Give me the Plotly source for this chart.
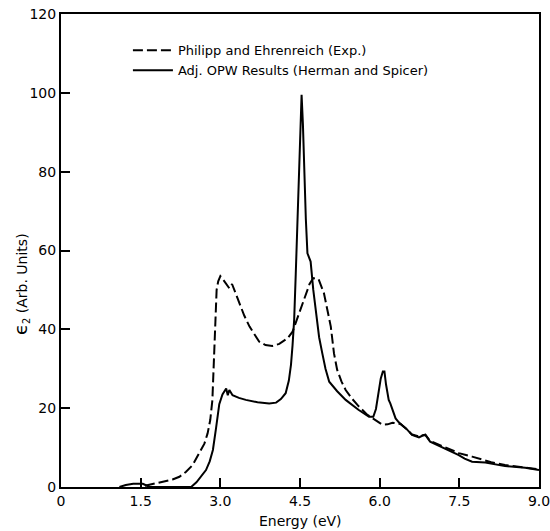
import plotly.graph_objects as go

# Adj. OPW results (Herman and Spicer) - solid
opw_energy = [1.10, 1.22, 1.36, 1.54, 1.67, 2.45, 2.55, 2.65, 2.73, 2.80, 2.86, 2.92,
              2.98, 3.04, 3.11, 3.14, 3.17, 3.23, 3.35, 3.48, 3.70, 3.92, 4.05, 4.14,
              4.23, 4.29, 4.33, 4.36, 4.39, 4.42, 4.45, 4.49, 4.53, 4.555, 4.58, 4.61,
              4.64, 4.67, 4.70, 4.75, 4.80, 4.86, 4.92, 4.98, 5.05, 5.20, 5.36, 5.60,
              5.80, 5.88, 5.93, 5.98, 6.02, 6.06, 6.09, 6.12, 6.17, 6.20, 6.25, 6.30,
              6.36, 6.50, 6.61, 6.74, 6.80, 6.86, 6.95, 7.10, 7.24, 7.49, 7.60, 7.74,
              7.99, 8.36, 8.74, 9.00]
opw_eps2 = [0.0, 0.5, 0.8, 0.8, 0.0, 0.0, 1.2, 2.8, 4.3, 6.5, 9.4, 15.0,
            21.0, 23.5, 25.0, 23.3, 24.6, 23.3, 22.6, 22.1, 21.5, 21.2, 21.4, 22.3,
            23.8, 27.0, 31.0, 36.0, 42.4, 54.0, 67.0, 84.0, 99.5, 92.0, 79.6, 68.0,
            59.3, 58.0, 57.2, 50.0, 44.0, 38.0, 33.9, 30.0, 26.7, 24.3, 22.1, 19.6,
            17.8, 17.8, 19.8, 23.8, 27.5, 29.3, 29.3, 26.0, 22.1, 21.2, 19.0, 17.4,
            16.4, 14.8, 13.2, 12.6, 13.0, 13.2, 11.5, 10.6, 9.8, 8.1, 7.2, 6.4,
            6.2, 5.3, 4.9, 4.3]

# Philipp and Ehrenreich (Exp.) - dashed
exp_energy = [1.58, 1.80, 1.98, 2.10, 2.23, 2.35, 2.48, 2.60, 2.70, 2.76, 2.81, 2.85,
              2.87, 2.89, 2.91, 2.93, 2.96, 3.00, 3.07, 3.13, 3.17, 3.22, 3.28, 3.36,
              3.45, 3.55, 3.65, 3.73, 3.85, 3.98, 4.11, 4.17, 4.27, 4.36, 4.44, 4.52,
              4.60, 4.68, 4.75, 4.85, 4.95, 5.02, 5.08, 5.14, 5.20, 5.28, 5.36, 5.48,
              5.61, 5.77, 5.86, 5.95, 6.05, 6.15, 6.24, 6.39, 6.50, 6.61, 6.74, 6.80,
              6.86, 6.95, 7.10, 7.24, 7.49, 7.74, 7.93, 8.10, 8.36, 8.74, 9.00]
exp_eps2 = [0.3, 0.9, 1.4, 1.9, 2.6, 3.8, 5.6, 8.5, 11.0, 13.6, 17.0, 22.0,
            28.0, 36.0, 44.0, 50.0, 52.2, 53.5, 52.3, 51.0, 50.4, 51.5, 49.5, 46.6,
            43.5, 40.7, 38.5, 36.9, 36.0, 35.8, 36.3, 36.9, 37.8, 39.4, 42.3, 45.5,
            48.5, 51.5, 53.0, 52.7, 49.2, 45.0, 40.7, 33.9, 29.7, 26.8, 24.6, 22.4,
            20.4, 18.3, 17.5, 16.5, 15.8, 15.9, 16.3, 16.0, 14.8, 13.3, 12.8, 13.1,
            13.3, 11.7, 10.8, 10.0, 8.6, 7.7, 6.9, 6.3, 5.6, 5.0, 4.5]

x_ticks = [0, 1.5, 3.0, 4.5, 6.0, 7.5, 9.0]
x_tick_labels = ["0", "1.5", "3.0", "4.5", "6.0", "7.5", "9.0"]
y_ticks = [0, 20, 40, 60, 80, 100, 120]

FONT = "DejaVu Sans"

fig = go.Figure()
fig.add_trace(go.Scatter(
    x=exp_energy, y=exp_eps2, mode="lines",
    name="Philipp and Ehrenreich (Exp.)",
    line=dict(color="black", width=2, dash="10px,4px"),
))
fig.add_trace(go.Scatter(
    x=opw_energy, y=opw_eps2, mode="lines",
    name="Adj. OPW Results (Herman and Spicer)",
    line=dict(color="black", width=2),
))

axis_common = dict(
    showline=True, linecolor="black", linewidth=2, mirror=True,
    showgrid=False, zeroline=False, automargin=False,
    ticks="inside", ticklen=9, tickwidth=1.5, tickcolor="black",
    ticklabeloverflow="allow",
    tickfont=dict(family=FONT, size=14, color="black"),
)

fig.update_xaxes(range=[0, 9], tickvals=x_ticks, ticktext=x_tick_labels, **axis_common)
fig.update_yaxes(range=[0, 120], tickvals=y_ticks, **axis_common)

fig.add_annotation(
    text="<span style='font-size:18px'>ϵ</span><sub>2</sub> (Arb. Units)", textangle=-90,
    xref="paper", yref="paper", x=-0.085, y=0.43,
    xanchor="center", yanchor="middle", showarrow=False,
    font=dict(family=FONT, size=14, color="black"),
)
fig.add_annotation(
    text="Energy (eV)",
    xref="paper", yref="paper", x=0.5, y=-0.072,
    xanchor="center", yanchor="middle", showarrow=False,
    font=dict(family=FONT, size=14, color="black"),
)

fig.update_layout(
    width=550, height=531,
    margin=dict(l=61, r=11, t=14, b=44),
    paper_bgcolor="white", plot_bgcolor="white",
    showlegend=True,
    legend=dict(
        x=0.14, y=0.955, xanchor="left", yanchor="top",
        bgcolor="rgba(0,0,0,0)", borderwidth=0,
        font=dict(family=FONT, size=13, color="black"),
        tracegroupgap=0, itemwidth=40,
    ),
)

# remove the default 8px page margin so the figure fills the window exactly
fig.write_html(
    "out.html",
    config={"displayModeBar": False},
    post_script="document.body.style.margin='0';document.body.style.overflow='hidden';",
)
